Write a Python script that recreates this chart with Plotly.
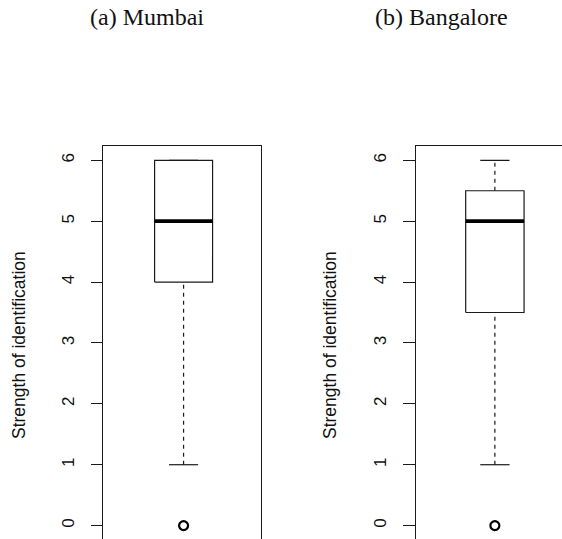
import plotly.graph_objects as go

# ---- data ----
panel_labels = ["(a) Mumbai", "(b) Bangalore"]
q1 = [4.0, 3.5]
median = [5.0, 5.0]
q3 = [6.0, 5.5]
lower_whisker = [1.0, 1.0]
upper_whisker = [6.0, 6.0]
outliers = [[0.0], [0.0]]
y_ticks = [0, 1, 2, 3, 4, 5, 6]
y_title = "Strength of identification"

W, H = 562, 539
BOX_HALF = 0.1835
CAP_HALF = 0.092
LINE = "#1a1a1a"

fig = go.Figure()

for i in range(2):
    xa = "x" if i == 0 else "x2"
    ya = "y" if i == 0 else "y2"
    c = 1.0
    common = dict(xaxis=xa, yaxis=ya, hoverinfo="skip", showlegend=False)
    # box
    fig.add_trace(go.Scatter(
        x=[c - BOX_HALF, c + BOX_HALF, c + BOX_HALF, c - BOX_HALF, c - BOX_HALF],
        y=[q1[i], q1[i], q3[i], q3[i], q1[i]],
        mode="lines", line=dict(color=LINE, width=1.2), **common))
    # whiskers (dashed)
    fig.add_trace(go.Scatter(x=[c, c], y=[lower_whisker[i], q1[i]], mode="lines",
                             line=dict(color=LINE, width=1.2, dash="4px,4px"), **common))
    fig.add_trace(go.Scatter(x=[c, c], y=[q3[i], upper_whisker[i]], mode="lines",
                             line=dict(color=LINE, width=1.2, dash="4px,4px"), **common))
    # caps
    for v in (lower_whisker[i], upper_whisker[i]):
        fig.add_trace(go.Scatter(x=[c - CAP_HALF, c + CAP_HALF], y=[v, v], mode="lines",
                                 line=dict(color=LINE, width=1.2), **common))
    # median
    fig.add_trace(go.Scatter(x=[c - BOX_HALF, c + BOX_HALF], y=[median[i], median[i]],
                             mode="lines", line=dict(color="black", width=3.8), **common))
    # outliers
    fig.add_trace(go.Scatter(x=[c] * len(outliers[i]), y=outliers[i], mode="markers",
                             marker=dict(symbol="circle-open", size=9, color="black",
                                         line=dict(color="black", width=2.2)), **common))

ydom = [0, (H - 145.7) / H]
yrange = [-0.22, 6.24]
tickfont = dict(family="Liberation Sans, Arial, sans-serif", size=17, color="#111")

xcommon = dict(showgrid=False, zeroline=False, showticklabels=False, ticks="",
               showline=True, side="top", linecolor=LINE, linewidth=1.2)
ycommon = dict(range=yrange, domain=ydom, tickvals=y_ticks, ticks="outside",
               tickcolor=LINE, tickwidth=1.2, tickangle=-90, tickfont=tickfont,
               showgrid=False, zeroline=False, showline=True, linecolor=LINE,
               linewidth=1.2)

fig.update_layout(
    width=W, height=H,
    margin=dict(l=0, r=0, t=0, b=0),
    paper_bgcolor="white", plot_bgcolor="white",
    showlegend=False,
    xaxis=dict(domain=[103 / W, 261 / W], range=[0.49, 1.49], anchor="y", **xcommon),
    xaxis2=dict(domain=[416 / W, 1.0], range=[0.504, 1.422], anchor="y2", **xcommon),
    yaxis=dict(anchor="x", ticklen=11, mirror=True, ticklabelstandoff=10, **ycommon),
    yaxis2=dict(anchor="x2", ticklen=12, mirror=False, ticklabelstandoff=10, **ycommon),
)

title_font = dict(family="Liberation Serif, Times New Roman, serif", size=24, color="#111")
for xpix, txt in zip([146.7, 441.7], panel_labels):
    fig.add_annotation(x=xpix / W, y=1 - 17.5 / H, xref="paper", yref="paper",
                       text=txt, showarrow=False, xanchor="center", yanchor="middle",
                       font=title_font)

for xpix in [19, 330]:
    fig.add_annotation(x=xpix / W, y=1 - 345 / H, xref="paper", yref="paper",
                       text=y_title, textangle=-90, showarrow=False,
                       xanchor="center", yanchor="middle",
                       font=dict(family="Liberation Sans, Arial, sans-serif", size=17.5,
                                 color="#111"))

fig.write_html("out.html")
